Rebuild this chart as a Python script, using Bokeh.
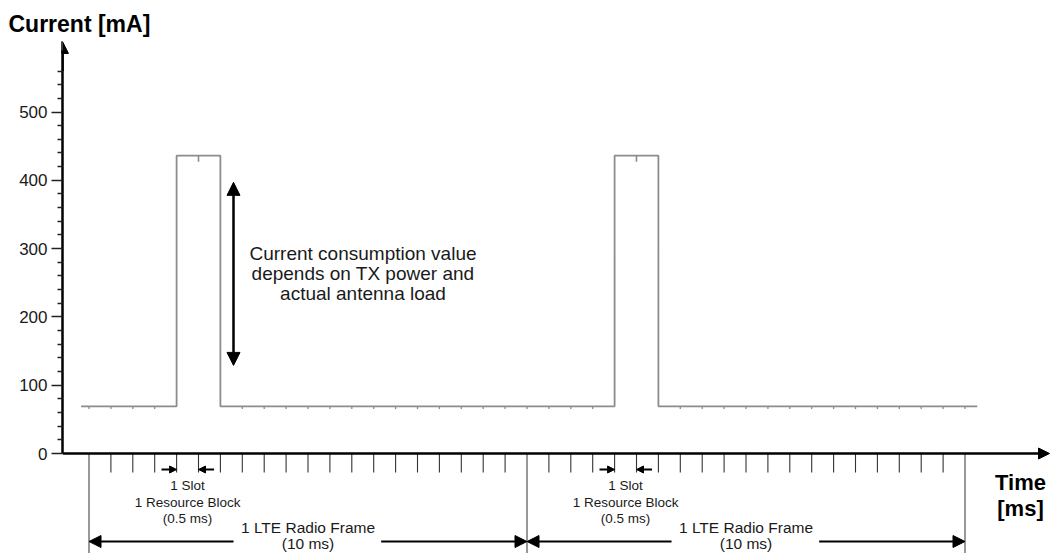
from bokeh.plotting import figure
from bokeh.models import Range1d, FixedTicker, Arrow, NormalHead
from bokeh.embed import file_html
from bokeh.resources import INLINE
from bokeh.core.properties import value

# ---------------- data ----------------
wave_t = [-0.18, 2.0, 2.0, 3.0, 3.0, 12.0, 12.0, 13.0, 13.0, 20.28]
wave_ma = [69, 69, 436, 436, 69, 69, 436, 436, 69, 69]
idle_dip_t = [0.0, 0.5, 1.0, 1.5, 3.5, 4.0, 4.5, 5.0, 5.5, 6.0, 6.5, 7.0, 7.5,
              8.0, 8.5, 9.0, 9.5, 10.0, 10.5, 11.0, 11.5, 13.5, 14.0, 14.5,
              15.0, 15.5, 16.0, 16.5, 17.0, 17.5, 18.0, 18.5, 19.0, 19.5, 20.0]
idle_ma = 69
idle_dip_ma = 65
tx_dip_t = [2.5, 12.5]
tx_ma = 436
tx_dip_ma = 427
frame_bounds = [0.0, 10.0, 20.0]
frame_starts = [0.0, 10.0]
frame_len = 10.0
slot_len = 0.5
slot_ticks = [0.5, 1.0, 1.5, 2.0, 2.5, 3.0, 3.5, 4.0, 4.5, 5.0, 5.5, 6.0, 6.5,
              7.0, 7.5, 8.0, 8.5, 9.0, 9.5,
              10.5, 11.0, 11.5, 12.0, 12.5, 13.0, 13.5, 14.0, 14.5, 15.0, 15.5,
              16.0, 16.5, 17.0, 17.5, 18.0, 18.5, 19.0, 19.5]
marked_slot_starts = [2.0, 12.0]
y_major = [0, 100, 200, 300, 400, 500]
y_minor = [20, 40, 60, 80, 120, 140, 160, 180, 220, 240, 260, 280, 320, 340,
           360, 380, 420, 440, 460, 480, 520, 540, 560]
y_title = "Current [mA]"
x_title = ["Time", "[ms]"]
slot_text = ["1 Slot", "1 Resource Block", "(0.5 ms)"]
frame_text = ["1 LTE Radio Frame", "(10 ms)"]
note_text = ["Current consumption value", "depends on TX power and", "actual antenna load"]
note_arrow_ma = (129, 397)

# ---------------- layout helpers (page pixels -> data) ----------------
PX_PER_MS = 43.8
T0_PX = 88.5
Y0_PX = 453.0
PX_PER_MA = 0.683
W, H = 1051, 553
FRAME_LEFT = 62
FRAME_TOP = 36


def t_at(px):
    return (px - T0_PX) / PX_PER_MS


def ma_at(py):
    return (Y0_PX - py) / PX_PER_MA


FONT = "Liberation Sans"
TXT = "#1a1a1a"

p = figure(width=W, height=H,
           x_range=Range1d(t_at(FRAME_LEFT), t_at(W)),
           y_range=Range1d(ma_at(H), ma_at(FRAME_TOP)),
           output_backend="svg", toolbar_location=None,
           x_axis_location=None, y_axis_location="left",
           min_border_left=FRAME_LEFT, min_border_right=0,
           min_border_top=FRAME_TOP, min_border_bottom=0,
           outline_line_color=None, background_fill_color="white",
           title=y_title, title_location="above")
p.grid.visible = False

p.title.align = "left"
p.title.offset = 8 - FRAME_LEFT
p.title.standoff = 0
p.title.vertical_align = "bottom"
p.title.text_font = FONT
p.title.text_font_size = "23px"
p.title.text_font_style = "bold"
p.title.text_color = "black"

ax = p.yaxis[0]
ax.ticker = FixedTicker(ticks=y_major, minor_ticks=y_minor)
ax.bounds = (0, 590)
ax.axis_line_width = 2.5
ax.axis_line_color = "black"
ax.major_tick_out = 11
ax.major_tick_in = 0
ax.minor_tick_out = 5
ax.minor_tick_in = 0
ax.major_tick_line_width = 1.3
ax.minor_tick_line_width = 1.3
ax.major_tick_line_color = "#222222"
ax.minor_tick_line_color = "#222222"
ax.major_label_standoff = 4
ax.major_label_text_font = FONT
ax.major_label_text_font_size = "17px"
ax.major_label_text_color = TXT

x0 = t_at(FRAME_LEFT)
# axis arrow heads
p.add_layout(Arrow(end=NormalHead(size=12, fill_color="black", line_color="black"),
                   x_start=x0, y_start=560, x_end=x0, y_end=ma_at(41),
                   line_width=2.5, line_color="black"))
p.add_layout(Arrow(end=NormalHead(size=11, fill_color="black", line_color="black"),
                   x_start=x0, y_start=0, x_end=t_at(1049), y_end=0,
                   line_width=2.5, line_color="black"))

# frame boundary lines and slot ticks
p.segment(x0=frame_bounds, y0=[0] * len(frame_bounds), x1=frame_bounds,
          y1=[ma_at(H)] * len(frame_bounds), line_color="#444444", line_width=1.1)
p.segment(x0=slot_ticks, y0=[0] * len(slot_ticks), x1=slot_ticks,
          y1=[ma_at(472)] * len(slot_ticks), line_color="#333333", line_width=1.1)

# waveform
p.line(wave_t, wave_ma, line_color="#8c8c8c", line_width=1.8)
p.segment(x0=idle_dip_t, y0=[idle_ma] * len(idle_dip_t), x1=idle_dip_t,
          y1=[idle_dip_ma] * len(idle_dip_t), line_color="#8c8c8c", line_width=1.3)
p.segment(x0=tx_dip_t, y0=[tx_ma] * len(tx_dip_t), x1=tx_dip_t,
          y1=[tx_dip_ma] * len(tx_dip_t), line_color="#8c8c8c", line_width=1.6)

# slot markers
ys = ma_at(469)
for s in marked_slot_starts:
    p.add_layout(Arrow(end=NormalHead(size=7, fill_color="black", line_color="black"),
                       x_start=s - 0.345, y_start=ys, x_end=s, y_end=ys,
                       line_width=2, line_color="black"))
    p.add_layout(Arrow(end=NormalHead(size=7, fill_color="black", line_color="black"),
                       x_start=s + slot_len + 0.355, y_start=ys, x_end=s + slot_len, y_end=ys,
                       line_width=2, line_color="black"))
    p.text(x=[s + slot_len / 2] * 3, y=[ma_at(485), ma_at(502), ma_at(518)], text=slot_text,
           text_font=value(FONT), text_font_size="13.5px", text_color=TXT,
           text_align="center", text_baseline="middle")

# frame markers
yf = ma_at(541)
for fs in frame_starts:
    p.add_layout(Arrow(end=NormalHead(size=12, fill_color="black", line_color="black"),
                       x_start=fs + 3.3, y_start=yf, x_end=fs, y_end=yf,
                       line_width=2, line_color="black"))
    p.add_layout(Arrow(end=NormalHead(size=12, fill_color="black", line_color="black"),
                       x_start=fs + 6.67, y_start=yf, x_end=fs + frame_len, y_end=yf,
                       line_width=2, line_color="black"))
    p.text(x=[fs + frame_len / 2] * 2, y=[ma_at(527), ma_at(543)], text=frame_text,
           text_font=value(FONT), text_font_size="15.5px", text_color=TXT,
           text_align="center", text_baseline="middle")

# note with double arrow
xa = t_at(233)
p.add_layout(Arrow(start=NormalHead(size=13, fill_color="black", line_color="black"),
                   end=NormalHead(size=13, fill_color="black", line_color="black"),
                   x_start=xa, y_start=note_arrow_ma[0], x_end=xa, y_end=note_arrow_ma[1],
                   line_width=2.5, line_color="black"))
p.text(x=[t_at(362.5)] * 3, y=[ma_at(253), ma_at(273), ma_at(293)], text=note_text,
       text_font=value(FONT), text_font_size="19px", text_color=TXT,
       text_align="center", text_baseline="middle")

# x axis title
p.text(x=[t_at(1020)] * 2, y=[ma_at(482), ma_at(508)], text=x_title,
       text_font=value(FONT), text_font_size="22px", text_font_style="bold",
       text_color="black", text_align="center", text_baseline="middle")

open("out.html", "w").write(file_html(p, INLINE))
